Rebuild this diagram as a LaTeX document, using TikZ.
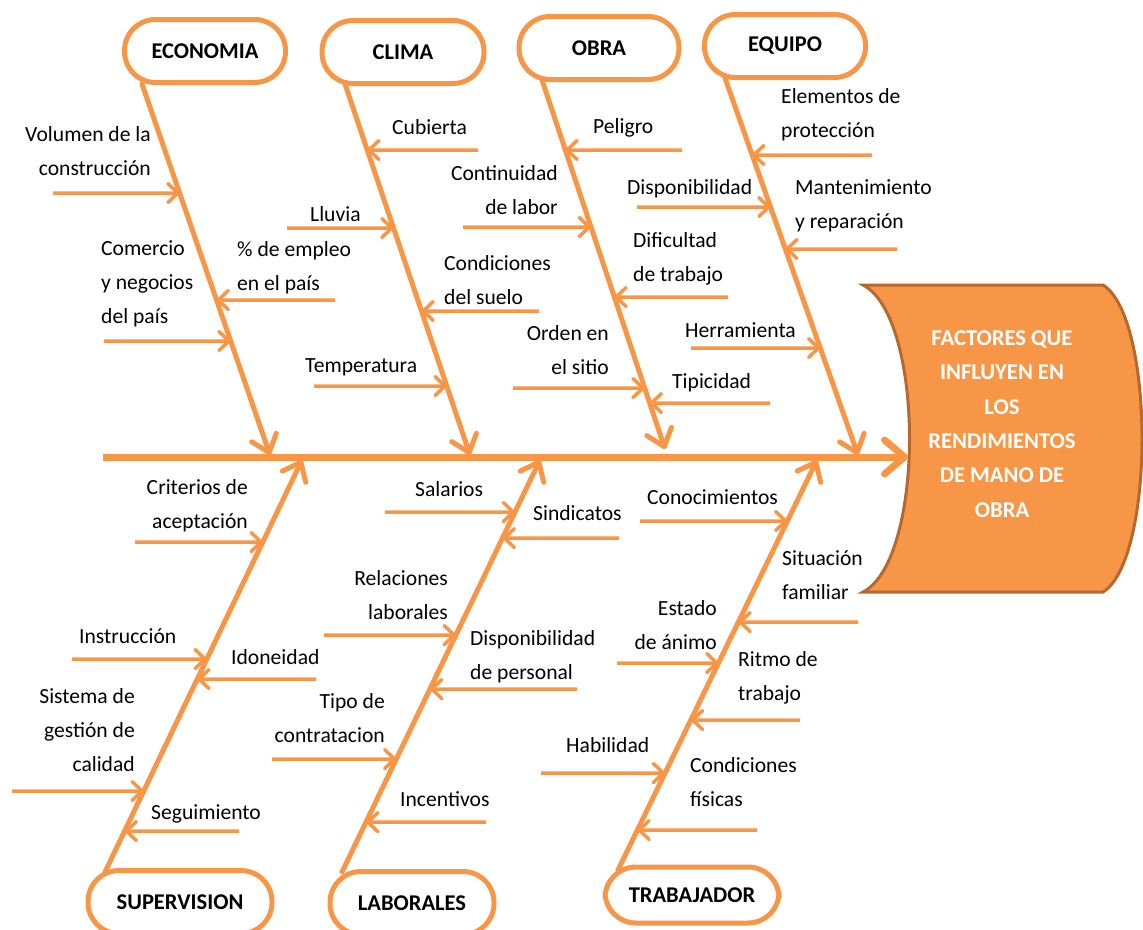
\documentclass[tikz,border=0pt]{standalone}
\usepackage{fontspec}
\setmainfont{Carlito}
\usetikzlibrary{arrows.meta}
\definecolor{org}{HTML}{F79646}
\definecolor{orgdark}{HTML}{B5692F}
\newcommand{\fishcause}[4]{%
  \coordinate (#1t) at (#3,#4);
  \coordinate (#1h) at (intersection of #2a--#2b and 0,#4--1,#4);
  \draw[sub] (#1t) -- (#1h);}
\begin{document}
\begin{tikzpicture}[x=1pt,y=-1pt,
  bonebox/.style={draw=org, line width=5pt, fill=white, rounded corners=31pt,
     minimum height=63pt, inner sep=0pt, text=black,
     font=\fontsize{22.5}{26}\selectfont\bfseries},
  bone/.style={draw=org, line width=5pt, line cap=round,
     -{Straight Barb[length=16pt,width=26pt,round]}},
  spine/.style={draw=org, line width=7pt,
     -{Straight Barb[length=20pt,width=34pt,round]}},
  sub/.style={draw=org, line width=3.5pt,
     -{Straight Barb[length=10pt,width=19pt,round]}},
  lbl/.style={font=\fontsize{21.6}{34}\selectfont, inner sep=0pt, text=black},
  headtxt/.style={font=\fontsize{22.6}{34.4}\selectfont\bfseries, text=white,
     align=center, inner sep=0pt}]
\useasboundingbox (0,0) rectangle (1143,929);
\clip (0,0) rectangle (1143,929);

% head
\draw[fill=org, draw=orgdark, line width=3pt]
  (863,285) -- (1103,285) .. controls (1155,317) and (1155,560) .. (1103,592)
  -- (863,592) .. controls (925,560) and (925,317) .. (863,285) -- cycle;
\node[headtxt] (head) at (1002,424)
  {FACTORES QUE\\INFLUYEN EN\\LOS\\RENDIMIENTOS\\DE MANO DE\\OBRA};

% spine
\coordinate (spa) at (103,457);
\coordinate (spb) at (908,457);
\draw[spine] (spa) -- (spb);

% bones
\coordinate (ecoa) at (142,84);  \coordinate (ecob) at (270,455);
\coordinate (clia) at (345,84);  \coordinate (clib) at (470,455);
\coordinate (obra) at (542,80);  \coordinate (obrb) at (665,449);
\coordinate (equa) at (725,78);  \coordinate (equb) at (858,455);
\coordinate (supa) at (105,872); \coordinate (supb) at (302,460);
\coordinate (laba) at (342,872); \coordinate (labb) at (540,460);
\coordinate (traa) at (618,870); \coordinate (trab) at (817,460);
\draw[bone] (ecoa) -- (ecob);
\draw[bone] (clia) -- (clib);
\draw[bone] (obra) -- (obrb);
\draw[bone] (equa) -- (equb);
\draw[bone] (supa) -- (supb);
\draw[bone] (laba) -- (labb);
\draw[bone] (traa) -- (trab);

% category boxes
\node[bonebox, minimum width=161pt] (eco) at (205,51) {ECONOMIA};
\node[bonebox, minimum width=162pt] (cli) at (403,52) {CLIMA};
\node[bonebox, minimum width=160pt] (obrn) at (599,48) {OBRA};
\node[bonebox, minimum width=161pt] (equ) at (785,46) {EQUIPO};
\node[bonebox, minimum width=184pt] (sup) at (180,902) {SUPERVISION};
\node[bonebox, minimum width=164pt] (lab) at (412,903) {LABORALES};
\node[bonebox, minimum width=174pt, minimum height=56pt] (tra) at (692,895) {TRABAJADOR};

% cause arrows
\fishcause{c1}{eco}{53}{193}
\fishcause{c2}{eco}{104}{341}
\fishcause{c3}{eco}{335}{300}
\fishcause{c4}{cli}{478}{150}
\fishcause{c5}{cli}{287}{228}
\fishcause{c6}{cli}{539}{311}
\fishcause{c7}{cli}{314}{386}
\fishcause{c8}{obr}{463}{227}
\fishcause{c9}{obr}{513}{388}
\fishcause{c10}{obr}{682}{150}
\fishcause{c11}{obr}{728}{297}
\fishcause{c12}{obr}{770}{403}
\fishcause{c13}{equ}{637}{207}
\fishcause{c14}{equ}{691}{348}
\fishcause{c15}{equ}{872}{155}
\fishcause{c16}{equ}{897}{249}
\fishcause{c17}{sup}{135}{542}
\fishcause{c18}{sup}{72}{659}
\fishcause{c19}{sup}{316}{679}
\fishcause{c20}{sup}{12}{791}
\fishcause{c21}{sup}{239}{831}
\fishcause{c22}{lab}{385}{512}
\fishcause{c23}{lab}{619}{538}
\fishcause{c24}{lab}{324}{635}
\fishcause{c25}{lab}{577}{689}
\fishcause{c26}{lab}{272}{759}
\fishcause{c27}{lab}{486}{822}
\fishcause{c28}{tra}{640}{521}
\fishcause{c29}{tra}{858}{622}
\fishcause{c30}{tra}{617}{663}
\fishcause{c31}{tra}{800}{720}
\fishcause{c32}{tra}{541}{773}
\fishcause{c33}{tra}{757}{830}

% labels
\node[lbl, anchor=east, align=right] (l1) at (151,151.5) {Volumen de la\\construcción};
\node[lbl, anchor=west, align=left] (l2) at (101,284) {Comercio\\y negocios\\del país};
\node[lbl, anchor=west, align=left] (l3) at (237,268) {\% de empleo\\en el país};
\node[lbl, anchor=west] (l4) at (392,127) {Cubierta};
\node[lbl, anchor=west] (l5) at (310,214) {Lluvia};
\node[lbl, anchor=west, align=left] (l6) at (444,280) {Condiciones\\del suelo};
\node[lbl, anchor=west] (l7) at (305,367) {Temperatura};
\node[lbl, anchor=east, align=right] (l8) at (558,190) {Continuidad\\de labor};
\node[lbl, anchor=east, align=right] (l9) at (609,350) {Orden en\\el sitio};
\node[lbl, anchor=west] (l10) at (593,128) {Peligro};
\node[lbl, anchor=west, align=left] (l11) at (633,259) {Dificultad\\de trabajo};
\node[lbl, anchor=west] (l12) at (672,383) {Tipicidad};
\node[lbl, anchor=west] (l13) at (627,189) {Disponibilidad};
\node[lbl, anchor=west] (l14) at (685,330) {Herramienta};
\node[lbl, anchor=west, align=left] (l15) at (781,115) {Elementos de\\protección};
\node[lbl, anchor=west, align=left] (l16) at (795,206) {Mantenimiento\\y reparación};
\node[lbl, anchor=east, align=right] (l17) at (248,506) {Criterios de\\aceptación};
\node[lbl, anchor=west] (l18) at (79,636) {Instrucción};
\node[lbl, anchor=west] (l19) at (231,657) {Idoneidad};
\node[lbl, anchor=east, align=right] (l20) at (135,730) {Sistema de\\gestión de\\calidad};
\node[lbl, anchor=west] (l21) at (151,814) {Seguimiento};
\node[lbl, anchor=west] (l22) at (415,489) {Salarios};
\node[lbl, anchor=west] (l23) at (533,513) {Sindicatos};
\node[lbl, anchor=east, align=right] (l24) at (448,595) {Relaciones\\laborales};
\node[lbl, anchor=west, align=left] (l25) at (470,657) {Disponibilidad\\de personal};
\node[lbl, anchor=east, align=right] (l26) at (385,718) {Tipo de\\contratacion};
\node[lbl, anchor=west] (l27) at (400,799) {Incentivos};
\node[lbl, anchor=west] (l28) at (647,497) {Conocimientos};
\node[lbl, anchor=west, align=left] (l29) at (782,575) {Situación\\familiar};
\node[lbl, anchor=east, align=right] (l30) at (717,625) {Estado\\de ánimo};
\node[lbl, anchor=west, align=left] (l31) at (738,678) {Ritmo de\\trabajo};
\node[lbl, anchor=west] (l32) at (566,745) {Habilidad};
\node[lbl, anchor=west, align=left] (l33) at (690,782) {Condiciones\\físicas};
\end{tikzpicture}
\end{document}
